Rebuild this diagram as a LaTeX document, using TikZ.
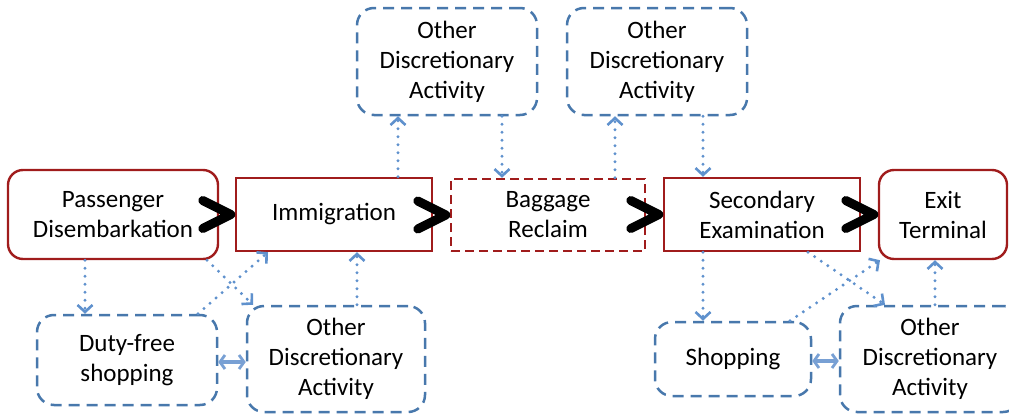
\documentclass[tikz,border=0pt]{standalone}
\usepackage{fontspec}
\setmainfont{Carlito}
\usetikzlibrary{arrows.meta}
\definecolor{dred}{RGB}{160,28,28}
\definecolor{dblue}{RGB}{72,120,172}
\definecolor{lblue}{RGB}{95,145,205}
\definecolor{xblue}{RGB}{120,160,212}
\tikzset{
  txt/.style={font=\fontsize{25}{30}\selectfont, align=center, inner sep=0pt, rectangle},
  redbox/.style={txt, draw=dred, line width=2.4pt},
  redround/.style={redbox, rounded corners=15pt},
  reddash/.style={redbox, dash pattern=on 9pt off 5pt},
  bluebox/.style={txt, draw=dblue, line width=2.5pt, rounded corners=17pt, dash pattern=on 11pt off 7pt},
  chev/.style={draw=black, line width=9pt, line cap=round, line join=round},
  dotcon/.style={draw=lblue, line width=3.3pt, line cap=round, dash pattern=on 0pt off 8pt,
     -{Straight Barb[length=7pt,width=15pt,line width=2.6pt]}},
  dbl/.style={draw=xblue, line width=3.8pt,
     {Straight Barb[length=5pt,width=14pt,line width=2.8pt]}-{Straight Barb[length=5pt,width=14pt,line width=2.8pt]}}
}
\begin{document}
\begin{tikzpicture}[x=1pt,y=-1pt]
\useasboundingbox (0,0) rectangle (1009,415);
% main process boxes
\node[redround, minimum width=210pt, minimum height=89pt] (pass) at (113,214.5) {Passenger\\Disembarkation};
\node[redbox, minimum width=196pt, minimum height=73pt] (immig) at (334,214.5) {Immigration};
\node[reddash, minimum width=194pt, minimum height=72pt] (bag) at (548,215) {Baggage\\Reclaim};
\node[redbox, minimum width=196pt, minimum height=73pt] (sec) at (762,214.5) {Secondary\\Examination};
\node[redround, minimum width=128pt, minimum height=89pt] (exit) at (943,214.5) {Exit\\Terminal};
% discretionary boxes
\node[bluebox, minimum width=180pt, minimum height=107pt] (oda1) at (447,61.5) {Other\\Discretionary\\Activity};
\node[bluebox, minimum width=180pt, minimum height=107pt] (oda2) at (657,61.5) {Other\\Discretionary\\Activity};
\node[bluebox, minimum width=180pt, minimum height=90pt] (duty) at (127,360) {Duty-free\\shopping};
\node[bluebox, minimum width=178pt, minimum height=106pt] (odabl) at (336,359) {Other\\Discretionary\\Activity};
\node[bluebox, minimum width=156pt, minimum height=74pt] (shop) at (733,359) {Shopping};
\node[bluebox, minimum width=180pt, minimum height=106pt] (odabr) at (930,359) {Other\\Discretionary\\Activity};
% chevrons
\draw[chev] ([shift={(-32pt,-14pt)}]immig.west) -- ([xshift=-4pt]immig.west) -- ([shift={(-32pt,14pt)}]immig.west);
\draw[chev] ([shift={(-32pt,-14pt)}]bag.west) -- ([xshift=-4pt]bag.west) -- ([shift={(-32pt,14pt)}]bag.west);
\draw[chev] ([shift={(-32pt,-14pt)}]sec.west) -- ([xshift=-4pt]sec.west) -- ([shift={(-32pt,14pt)}]sec.west);
\draw[chev] ([shift={(-32pt,-14pt)}]exit.west) -- ([xshift=-4pt]exit.west) -- ([shift={(-32pt,14pt)}]exit.west);
% dotted connectors
\draw[dotcon] ([xshift=-28pt]pass.south) -- ([xshift=-42pt]duty.north);
\draw[dotcon] ([xshift=94pt]pass.south) -- ([xshift=-83pt]odabl.north);
\draw[dotcon] ([xshift=71pt]duty.north) -- ([xshift=-66pt]immig.south);
\draw[dotcon] ([xshift=21pt]odabl.north) -- ([xshift=23pt]immig.south);
\draw[dotcon] ([xshift=64pt]immig.north) -- ([xshift=-49pt]oda1.south);
\draw[dotcon] ([xshift=55pt]oda1.south) -- ([xshift=-46pt]bag.north);
\draw[dotcon] ([xshift=67pt]bag.north) -- ([xshift=-42pt]oda2.south);
\draw[dotcon] ([xshift=46pt]oda2.south) -- ([xshift=-59pt]sec.north);
\draw[dotcon] ([xshift=-59pt]sec.south) -- ([xshift=-30pt]shop.north);
\draw[dotcon] ([xshift=46pt]sec.south) -- ([xshift=-45pt]odabr.north);
\draw[dotcon] ([xshift=57pt]shop.north) -- ([xshift=-63pt]exit.south);
\draw[dotcon] ([xshift=5pt]odabr.north) -- ([xshift=-8pt]exit.south);
% two-way arrows
\draw[dbl] ([yshift=-2pt]duty.east) -- ([yshift=-2pt]duty.east -| odabl.west);
\draw[dbl] ([yshift=-2pt]shop.east) -- ([yshift=-2pt]shop.east -| odabr.west);
\end{tikzpicture}
\end{document}
